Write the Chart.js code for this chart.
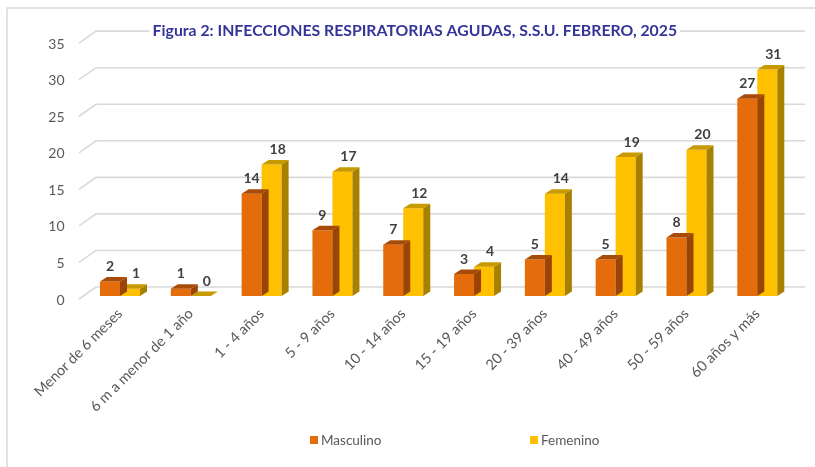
<!DOCTYPE html>
<html>
<head>
<meta charset="utf-8">
<script src="https://cdn.jsdelivr.net/npm/chart.js@4.4.1/dist/chart.umd.min.js"></script>
<style>
html,body{margin:0;padding:0;background:#fff;}
#wrap{width:815px;height:467px;position:relative;}
</style>
</head>
<body>
<div id="wrap"><canvas id="c" width="815" height="467"></canvas></div>
<script>
const titleText = 'Figura 2: INFECCIONES RESPIRATORIAS AGUDAS, S.S.U. FEBRERO, 2025';
const categories = ['Menor de 6 meses','6 m a menor de 1 año','1 - 4 años','5 - 9 años','10 - 14 años','15 - 19 años','20 - 39 años','40 - 49 años','50 - 59 años','60 años y más'];
const masculino = [2, 1, 14, 9, 7, 3, 5, 5, 8, 27];
const femenino = [1, 0, 18, 17, 12, 4, 14, 19, 20, 31];
const seriesNames = ['Masculino', 'Femenino'];
const yTicks = [0, 5, 10, 15, 20, 25, 30, 35];

const FONT = 'Lato, "Open Sans", sans-serif';
const TITLE_SIZE = 15.8;
const frontColors = ['#E46C0A', '#FFC000'];
const topColors = ['#A94B08', '#C99A00'];
const sideColors = ['#9A4407', '#A88000'];
const DX = 7, DY = -4.5;

const deco = {
  id: 'deco',
  beforeDraw(chart) {
    const ctx = chart.ctx;
    const y = chart.scales.y;
    ctx.save();
    // frame lines
    ctx.strokeStyle = '#D9D9D9';
    ctx.lineWidth = 1.5;
    ctx.beginPath();
    ctx.moveTo(7, 467); ctx.lineTo(7, 8); ctx.lineTo(815, 8);
    ctx.stroke();
    // 3D gridlines
    ctx.strokeStyle = '#D9D9D9';
    ctx.lineWidth = 1.6;
    yTicks.forEach(v => {
      const p = y.getPixelForValue(v);
      ctx.beginPath();
      ctx.moveTo(79, p + 3);
      ctx.lineTo(96, p - 9);
      ctx.lineTo(805, p - 9);
      ctx.stroke();
    });
    // white background behind title
    const tb = chart.titleBlock;
    if (tb) {
      ctx.font = 'bold ' + TITLE_SIZE + 'px ' + FONT;
      const w = ctx.measureText(titleText).width;
      const cx = (tb.left + tb.right) / 2;
      ctx.fillStyle = '#fff';
      ctx.fillRect(cx - w / 2 - 3, 20, w + 6, 20);
    }
    ctx.restore();
  },
  afterDatasetDraw(chart, args) {
    const ctx = chart.ctx;
    const i = args.index;
    const meta = chart.getDatasetMeta(i);
    ctx.save();
    meta.data.forEach(bar => {
      const x0 = bar.x - bar.width / 2, x1 = bar.x + bar.width / 2;
      const yt = bar.y, yb = bar.base;
      ctx.fillStyle = sideColors[i];
      ctx.beginPath();
      ctx.moveTo(x1, yt); ctx.lineTo(x1 + DX, yt + DY); ctx.lineTo(x1 + DX, yb + DY); ctx.lineTo(x1, yb);
      ctx.closePath(); ctx.fill();
      ctx.fillStyle = topColors[i];
      ctx.beginPath();
      ctx.moveTo(x0, yt); ctx.lineTo(x1, yt); ctx.lineTo(x1 + DX, yt + DY); ctx.lineTo(x0 + DX, yt + DY);
      ctx.closePath(); ctx.fill();
    });
    ctx.restore();
  },
  afterDatasetsDraw(chart) {
    const ctx = chart.ctx;
    ctx.save();
    ctx.font = 'bold 14px ' + FONT;
    ctx.fillStyle = '#404040';
    ctx.textAlign = 'center';
    ctx.textBaseline = 'middle';
    chart.data.datasets.forEach((ds, i) => {
      const meta = chart.getDatasetMeta(i);
      meta.data.forEach((bar, j) => {
        const off = i === 1 ? 6 : 0;
        ctx.fillText(String(ds.data[j]), bar.x + off, bar.y - 15);
      });
    });
    // legend
    const legendX = [310, 530];
    ctx.font = '13.5px ' + FONT;
    ctx.textAlign = 'left';
    seriesNames.forEach((n, i) => {
      ctx.fillStyle = frontColors[i];
      ctx.fillRect(legendX[i], 436, 8, 8);
      ctx.fillStyle = '#595959';
      ctx.fillText(n, legendX[i] + 11, 440.5);
    });
    ctx.restore();
  }
};

new Chart(document.getElementById('c'), {
  type: 'bar',
  data: {
    labels: categories,
    datasets: [
      { label: seriesNames[0], data: masculino, backgroundColor: frontColors[0], borderWidth: 0 },
      { label: seriesNames[1], data: femenino, backgroundColor: frontColors[1], borderWidth: 0 }
    ]
  },
  options: {
    responsive: false,
    animation: false,
    events: [],
    layout: { padding: { left: 37, right: 22.3, top: 0, bottom: 0 } },
    datasets: { bar: { categoryPercentage: 0.565, barPercentage: 1 } },
    plugins: {
      legend: { display: false },
      tooltip: { enabled: false },
      title: {
        display: true,
        text: titleText,
        color: '#34359A',
        font: { family: FONT, size: TITLE_SIZE, weight: 'bold', lineHeight: 1.2 },
        padding: { top: 21.2, bottom: 0 }
      }
    },
    scales: {
      x: {
        grid: { display: false, drawTicks: false },
        border: { display: false },
        ticks: {
          color: '#595959',
          font: { family: FONT, size: 14.5 },
          autoSkip: false,
          maxRotation: 45,
          minRotation: 45,
          padding: 9
        },
        afterFit(s) { s.height = 171; }
      },
      y: {
        min: 0,
        max: 35,
        grid: { display: false, drawTicks: false },
        border: { display: false },
        ticks: {
          stepSize: 5,
          color: '#595959',
          font: { family: FONT, size: 14 },
          padding: 20,
          labelOffset: 4
        },
        afterFit(s) { s.width = 47.6; }
      }
    }
  },
  plugins: [deco]
});
</script>
</body>
</html>
